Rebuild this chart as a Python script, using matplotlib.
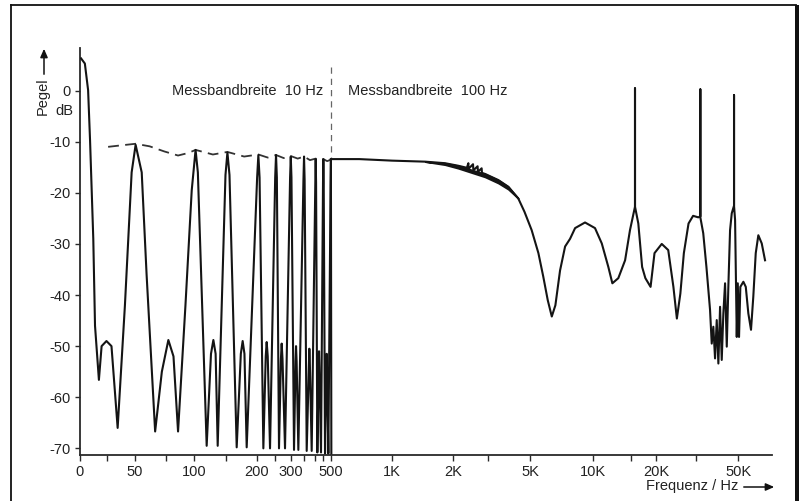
import numpy as np
import matplotlib
matplotlib.use("Agg")
import matplotlib.pyplot as plt
from matplotlib.lines import Line2D
from matplotlib.patches import Rectangle, FancyArrowPatch
from matplotlib.ticker import FixedLocator, FixedFormatter, NullFormatter

plt.rcParams['font.family'] = ['Liberation Sans', 'DejaVu Sans']
plt.rcParams['axes.unicode_minus'] = False

# ---------------- data ----------------
# 10 Hz measuring bandwidth part (0 ... 500 Hz)
f_10hz = [1, 4.5, 7.5, 9.3, 12.3, 13.9, 17.5, 20, 24.5, 29, 34.5, 41, 47, 50.5, 55.5, 59.5,
          66.5, 72, 77.5, 82, 86, 92.5, 98, 102,
          105, 117.4, 124, 127.8, 131.5, 135, 149, 152, 155,
          165.9, 172.5, 175.5, 178.5, 182.3, 201.5, 204.5, 207.5,
          217.2, 223.5, 226.1, 229, 235.4, 250.5, 253, 255.5,
          262, 268, 270.4, 273, 281.2, 298.5, 300.9, 303.3,
          312.4, 318, 319.8, 322, 328.5, 348.5, 350.9, 353.3,
          361.9, 371.5, 373.2, 375.5, 383.5, 400, 402.2, 404.5,
          412.1, 420.5, 422.4, 424.5, 435, 448, 450.2, 452.5,
          460.9, 470, 471.8, 474, 483, 498.5, 500.5, 503]
db_10hz = [6.3, 5.3, 0.1, -9.7, -29, -46, -56.6, -50, -49, -50, -66, -42, -16, -10.6, -16, -36,
           -66.7, -55, -48.8, -52, -66.7, -42, -19.5, -11.6,
           -16, -69.5, -51.5, -48.8, -51.5, -69.5, -16.5, -12.1, -16.5,
           -69.8, -51.5, -49.0, -51.5, -69.8, -17, -12.6, -17,
           -70, -52, -49.2, -52, -70, -17, -12.6, -17,
           -70, -52.5, -49.5, -52.5, -70, -17, -12.9, -17,
           -70.3, -53, -50.0, -53, -70.3, -17.5, -12.9, -17.5,
           -70.5, -53.5, -50.5, -53.5, -70.5, -18, -13.4, -18,
           -70.8, -54, -51.0, -54, -70.8, -18, -13.4, -18,
           -71, -54.5, -51.5, -54.5, -71, -18, -13.5, -71]

# dashed envelope of the 10 Hz part
f_env = [26, 38, 50.5, 62, 74, 86, 95, 102, 127, 152, 178, 204.5, 229, 253, 277, 300.9,
         326, 350.9, 376, 402.2, 426, 450.2, 475, 500.5]
db_env = [-11.0, -10.7, -10.4, -10.9, -11.9, -12.7, -12.2, -11.6, -12.5, -12.0, -12.9, -12.5,
          -13.1, -12.6, -13.2, -12.8, -13.3, -12.9, -13.6, -13.3, -13.7, -13.4, -13.8, -13.5]

# 100 Hz measuring bandwidth part (500 Hz ... 70 kHz)
f_100hz = [500, 690, 1000, 1460, 1830, 2130, 2350, 2390, 2395, 2520, 2530, 2655, 2665, 2780, 2790,
           2890, 3390, 3830, 4330, 4670, 5090, 5480, 5780, 6070, 6345, 6600, 6945, 7340, 7750,
           8190, 9130, 10180, 10950, 11750, 12270, 13080, 14070, 14830, 15700, 15700, 15700,
           16310, 17040, 17690, 18780, 19650, 21200, 22650, 23880, 24740, 25640, 26570, 27870,
           29200, 30940, 31700, 31700, 31700, 32820, 34100, 35610, 36340, 37050, 37810, 38590,
           39350, 40160, 40970, 41770, 42640, 43520, 44350, 45270, 46200, 47480, 47480, 47480,
           48080, 49060, 49660, 50420, 51210, 53100, 54660, 56370, 58200, 59830, 61600, 63550,
           66200, 68870]
db_100hz = [-13.4, -13.4, -13.7, -13.9, -14.2, -14.7, -15.1, -14.2, -15.3, -14.4, -15.6, -14.8, -15.9, -15.2, -16.1,
            -16.3, -17.5, -18.8, -21.1, -23.7, -27.3, -31.8, -36.4, -41.0, -44.2, -42.0, -35.2, -30.5, -29.0,
            -26.9, -25.8, -26.9, -29.9, -34.5, -37.7, -36.7, -33.2, -27.3, -22.7, 0.45, -22.7,
            -26.0, -34.5, -36.7, -38.4, -31.8, -30.0, -31.2, -38.4, -44.6, -39.7, -31.8, -26.0,
            -24.5, -24.8, -24.6, 0.25, -24.8, -27.9, -34.5, -42.9, -49.5, -46.2, -52.4, -44.9,
            -53.4, -42.3, -52.7, -43.6, -37.7, -50.1, -38.4, -27.3, -24.0, -22.5, -0.9, -22.5,
            -25.3, -48.2, -37.7, -48.2, -38.4, -37.4, -38.4, -43.6, -46.8, -40.3, -31.8, -28.3,
            -29.9, -33.2]

# thickened (fine ripple) band of the 100 Hz part
f_band = [1460, 1830, 2130, 2890, 3390, 3830, 4330]
db_band_hi = [-13.9, -14.2, -14.7, -16.3, -17.5, -18.8, -21.1]
db_band_lo = [-13.9, -14.5, -15.2, -16.9, -18.1, -19.3, -21.1]

x_major = [0, 50, 100, 200, 300, 500, 1000, 2000, 5000, 10000, 20000, 50000]
x_labels = ['0', '50', '100', '200', '300', '500', '1K', '2K', '5K', '10K', '20K', '50K']
x_minor = [25, 75, 150, 250, 350, 400, 450, 3000, 15000, 30000]
y_ticks = [0, -10, -20, -30, -40, -50, -60, -70]
y_labels = ['0', '-10', '-20', '-30', '-40', '-50', '-60', '-70']

# ---------------- custom frequency scale (linear 0-100 Hz, quasi-log above) ----------------
LIN_F = np.array([-100.0, 0, 25, 50, 75, 100])
LIN_P = np.array([-28.0, 80, 107, 135, 165.5, 194])
LOG_F = np.log10([100, 150, 200, 250, 300, 350, 400, 450, 500, 1000, 2000, 3000, 5000,
                  10000, 15000, 20000, 30000, 50000, 1e6])
LOG_P = np.array([194, 226, 256.5, 275, 290.5, 303.8, 315.3, 323.3, 330.8, 392, 452.7, 488.3,
                  530, 593.3, 631, 656, 695.7, 738.3, 988])


def fwd(f):
    f = np.asarray(f, dtype=float)
    lf = np.log10(np.clip(f, 100, 1e7))
    return np.where(f <= 100, np.interp(f, LIN_F, LIN_P), np.interp(lf, LOG_F, LOG_P))


def inv(p):
    p = np.asarray(p, dtype=float)
    return np.where(p <= 194, np.interp(p, LIN_P, LIN_F), 10 ** np.interp(p, LOG_P, LOG_F))


W, H = 799, 501
fig = plt.figure(figsize=(W / 100, H / 100), dpi=100)
ax = fig.add_axes([80 / W, (H - 455) / H, (771.7 - 80) / W, (455 - 48) / H])
ax.set_xscale('function', functions=(fwd, inv))
ax.set_xlim(0, 74600)
ax.set_ylim(-71.3, 8.34)

ink = '#141414'
ax.plot(f_10hz, db_10hz, color=ink, lw=1.5, solid_joinstyle='round', zorder=3)
ax.plot(f_100hz, db_100hz, color=ink, lw=1.5, solid_joinstyle='round', zorder=3)
ax.fill_between(f_band, db_band_lo, db_band_hi, color=ink, lw=1.2, zorder=3)
ax.plot(f_env, db_env, color='#333333', lw=1.3, dashes=(6, 3.5), zorder=2)
ax.plot([500, 500], [4.6, -13.4], color='#666666', lw=0.9, dashes=(5, 4), zorder=2)

for s in ['top', 'right']:
    ax.spines[s].set_visible(False)
for s in ['left', 'bottom']:
    ax.spines[s].set_color('#2a2a2a')
    ax.spines[s].set_linewidth(1.3)

ax.xaxis.set_major_locator(FixedLocator(x_major))
ax.xaxis.set_major_formatter(FixedFormatter(x_labels))
ax.xaxis.set_minor_locator(FixedLocator(x_minor))
ax.xaxis.set_minor_formatter(NullFormatter())
ax.yaxis.set_major_locator(FixedLocator(y_ticks))
ax.yaxis.set_major_formatter(FixedFormatter(y_labels))
ax.yaxis.set_minor_locator(FixedLocator([]))
ax.tick_params(axis='x', which='both', direction='out', length=4, width=1, color='#2a2a2a',
               pad=3.5, labelsize=10.5, labelcolor='#222222')
ax.tick_params(axis='y', which='both', direction='out', length=3.6, width=1, color='#2a2a2a',
               pad=3.5, labelsize=10.5, labelcolor='#222222')

# annotations in figure pixel coordinates
def fx(x):
    return x / W


def fy(y):
    return 1 - y / H


fig.text(fx(248), fy(91), 'Messbandbreite  10 Hz', ha='center', va='center', fontsize=10.5, color='#222222')
fig.text(fx(428), fy(91), 'Messbandbreite  100 Hz', ha='center', va='center', fontsize=10.5, color='#222222')
fig.text(fx(73), fy(111), 'dB', ha='right', va='center', fontsize=10.5, color='#222222')
fig.text(fx(42.5), fy(96.5), 'Pegel', ha='center', va='center', rotation=90, fontsize=10.5, color='#222222')
fig.text(fx(692), fy(486), 'Frequenz / Hz', ha='center', va='center', fontsize=10.5, color='#222222')

fig.add_artist(FancyArrowPatch((fx(44), fy(77)), (fx(44), fy(46)), transform=fig.transFigure,
                               arrowstyle='-|>,head_length=5,head_width=2.2', color='#111111', lw=1.1))
fig.add_artist(FancyArrowPatch((fx(741), fy(487)), (fx(777), fy(487)), transform=fig.transFigure,
                               arrowstyle='-|>,head_length=5,head_width=2.2', color='#111111', lw=1.1))

# outer frame
fig.add_artist(Line2D([fx(10.5), fx(10.5)], [fy(501), fy(5)], transform=fig.transFigure, color='#111111', lw=1.3))
fig.add_artist(Line2D([fx(10.5), fx(796)], [fy(5), fy(5)], transform=fig.transFigure, color='#111111', lw=1.3))
fig.add_artist(Rectangle((fx(795), 0), fx(4.5), fy(4.5), transform=fig.transFigure, color='#111111', lw=0))

fig.savefig('out.png', dpi=100)
